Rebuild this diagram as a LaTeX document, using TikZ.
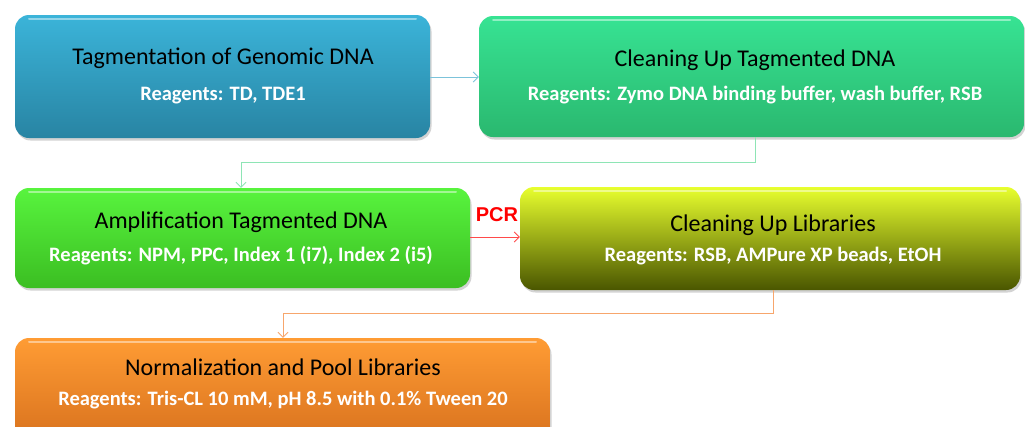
\documentclass[tikz,border=0pt]{standalone}
\usepackage{fontspec}
\setmainfont{Carlito}
\newfontfamily\labelfont{Liberation Sans}
\usetikzlibrary{arrows.meta,shadows,calc}
\definecolor{bluetop}{HTML}{3BB4D9}
\definecolor{bluebot}{HTML}{2884A3}
\definecolor{greentop}{HTML}{37E393}
\definecolor{greenbot}{HTML}{2AB86F}
\definecolor{limetop}{HTML}{58F43E}
\definecolor{limebot}{HTML}{3BBE22}
\definecolor{olivetop}{HTML}{E8FF2E}
\definecolor{olivebot}{HTML}{4A5600}
\definecolor{orangetop}{HTML}{FF9C34}
\definecolor{orangebot}{HTML}{D56E1C}
\definecolor{lnblue}{HTML}{7CC3DA}
\definecolor{lngreen}{HTML}{8EE5B5}
\definecolor{lnred}{HTML}{FF4A4A}
\definecolor{lnorange}{HTML}{F7A66C}
\tikzset{
  stepbox/.style={rounded corners=14pt, inner sep=0pt,
    drop shadow={shadow xshift=1.5pt, shadow yshift=-2.5pt, opacity=0.35}},
  title/.style={font=\fontsize{24}{26}\selectfont, text=black},
  reag/.style={font=\bfseries\fontsize{20.5}{22}\selectfont, text=white},
  link/.style={line width=0.8pt, -{Straight Barb[length=5pt,width=10pt]}},
}
\begin{document}
\begin{tikzpicture}[x=1pt,y=-1pt]
\useasboundingbox (0,0) rectangle (1025,426);
\begin{scope}
\clip (0,0) rectangle (1025,426);
% boxes
\path[stepbox, top color=bluetop, bottom color=bluebot]
  (15,15) rectangle (430,138);
\path[stepbox, top color=greentop, bottom color=greenbot]
  (479,16) rectangle (1024,137);
\path[stepbox, top color=limetop, bottom color=limebot]
  (15,188) rectangle (470,288);
\path[stepbox, top color=olivetop, bottom color=olivebot]
  (520,187) rectangle (1020,290);
\path[stepbox, top color=orangetop, bottom color=orangebot]
  (15,338) rectangle (550,450);
% glossy highlights along the top edges
\foreach \a/\b/\y in {29/416/19, 493/1010/20, 29/456/192, 534/1006/191, 29/536/342}
  \draw[white, opacity=0.45, line width=2pt, line cap=round] (\a,\y) -- (\b,\y);
\end{scope}
% anchor nodes for the connectors
\node[inner sep=0pt] (b1) at (222.5,76.5) [minimum width=415pt, minimum height=123pt] {};
\node[inner sep=0pt] (b2) at (751.5,76.5) [minimum width=545pt, minimum height=121pt] {};
\node[inner sep=0pt] (b3) at (242.5,238) [minimum width=455pt, minimum height=100pt] {};
\node[inner sep=0pt] (b4) at (770,238.5) [minimum width=500pt, minimum height=103pt] {};
\node[inner sep=0pt] (b5) at (282.5,394) [minimum width=535pt, minimum height=112pt] {};
% texts
\node[title] (t1) at (223,58) {Tagmentation of Genomic DNA};
\node[reag]  (r1) at (223,96) {Reagents: TD, TDE1};
\node[title] (t2) at (755,60) {Cleaning Up Tagmented DNA};
\node[reag]  (r2) at (755,95) {Reagents: Zymo DNA binding buffer, wash buffer, RSB};
\node[title] (t3) at (241,222) {Amplification Tagmented DNA};
\node[reag]  (r3) at (241,256) {Reagents: NPM, PPC, Index 1 (i7), Index 2 (i5)};
\node[title] (t4) at (773,225) {Cleaning Up Libraries};
\node[reag]  (r4) at (773,256) {Reagents: RSB, AMPure XP beads, EtOH};
\node[title] (t5) at (283,367) {Normalization and Pool Libraries};
\node[reag]  (r5) at (283,400) {Reagents: Tris-CL 10 mM, pH 8.5 with 0.1\% Tween 20};
% connectors
\draw[link, lnblue] (b1.east |- 0,77) -- (b2.west |- 0,77);
\coordinate (c2a) at (755,162);
\coordinate (c2b) at (241,162);
\draw[link, lngreen] (b2.south -| c2a) -- (c2a) -- (c2b) -- (b3.north -| c2b);
\draw[link, lnred] (b3.east |- 0,237) -- (b4.west |- 0,237);
\node[font=\labelfont\bfseries\fontsize{20}{22}\selectfont, text=red] (pcr) at (497,215) {PCR};
\coordinate (c3a) at (773,313);
\coordinate (c3b) at (283,313);
\draw[link, lnorange] (b4.south -| c3a) -- (c3a) -- (c3b) -- (b5.north -| c3b);
\end{tikzpicture}
\end{document}
